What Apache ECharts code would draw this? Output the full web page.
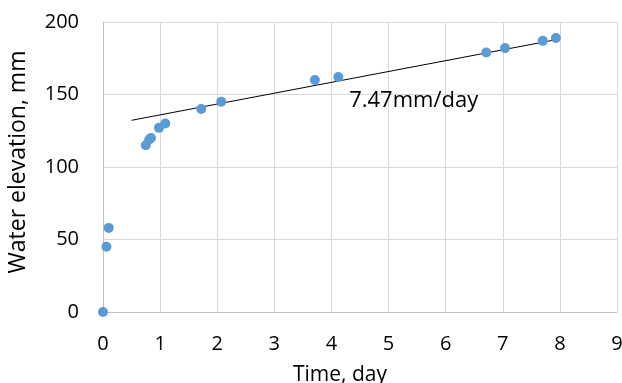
<!DOCTYPE html>
<html>
<head>
<meta charset="utf-8">
<script src="https://cdn.jsdelivr.net/npm/echarts@6/dist/echarts.min.js"></script>
<style>
  html, body { margin: 0; padding: 0; background: #fff; }
  #chart { width: 622px; height: 383px; }
</style>
</head>
<body>
<div id="chart"></div>
<script>
// measured points (day, mm)
const timeDays = [0, 0.06, 0.1, 0.75, 0.81, 0.84, 0.98, 1.09, 1.72, 2.07, 3.71, 4.12, 6.71, 7.04, 7.7, 7.93];
const elevationMm = [0, 45, 58, 115, 119, 120, 127, 130, 140, 145, 160, 162, 179, 182, 187, 189];

// fitted trend line, 7.47 mm/day
const trendDays = [0.5, 8.0];
const trendMm = [132.2, 188.3];
const trendLabel = '7.47mm/day';
const trendLabelAt = [5.44, 145.5];

const xTicks = [0, 9, 1];   // min, max, step
const yTicks = [0, 200, 50];

const FONT = '"Open Sans", sans-serif';
const gridColor = '#d9d9d9';
const axisColor = '#bfbfbf';

const chart = echarts.init(document.getElementById('chart'), null, { renderer: 'canvas' });

chart.setOption({
    backgroundColor: '#fff',
    animation: false,
    grid: { left: 103, right: 5, top: 22, bottom: 71, containLabel: false, outerBoundsMode: 'none' },
    xAxis: {
        type: 'value',
        min: xTicks[0], max: xTicks[1], interval: xTicks[2],
        name: 'Time, day',
        nameLocation: 'middle',
        nameGap: 53,
        // title sits a little left of the plot centre, as in the source
        nameTextStyle: { color: '#000', fontFamily: FONT, fontSize: 21, padding: [0, 40, 0, 0] },
        axisLine: { show: true, lineStyle: { color: axisColor, width: 1 } },
        axisTick: { show: false },
        axisLabel: { color: '#000', fontFamily: FONT, fontSize: 20, margin: 22 },
        splitLine: { show: true, lineStyle: { color: gridColor, width: 1 } }
    },
    yAxis: {
        type: 'value',
        min: yTicks[0], max: yTicks[1], interval: yTicks[2],
        name: 'Water elevation, mm',
        nameLocation: 'middle',
        nameGap: 73,
        nameTextStyle: { color: '#000', fontFamily: FONT, fontSize: 23, padding: [0, 0, 0, 10] },
        axisLine: { show: true, lineStyle: { color: axisColor, width: 1 } },
        axisTick: { show: false },
        axisLabel: { color: '#000', fontFamily: FONT, fontSize: 20, margin: 24 },
        splitLine: { show: true, lineStyle: { color: gridColor, width: 1 } }
    },
    series: [
        {
            type: 'line',
            data: trendDays.map((d, i) => [d, trendMm[i]]),
            symbol: 'none',
            lineStyle: { color: '#000', width: 1 },
            silent: true,
            z: 1,
            markPoint: {
                symbol: 'circle',
                symbolSize: 0,
                data: [{ coord: trendLabelAt, value: trendLabel }],
                label: {
                    show: true,
                    formatter: trendLabel,
                    color: '#000',
                    fontFamily: FONT,
                    fontSize: 22
                }
            }
        },
        {
            type: 'scatter',
            data: timeDays.map((d, i) => [d, elevationMm[i]]),
            symbol: 'circle',
            symbolSize: 10,
            itemStyle: { color: '#5b9bd5', opacity: 1 },
            z: 2
        }
    ]
});
</script>
</body>
</html>
